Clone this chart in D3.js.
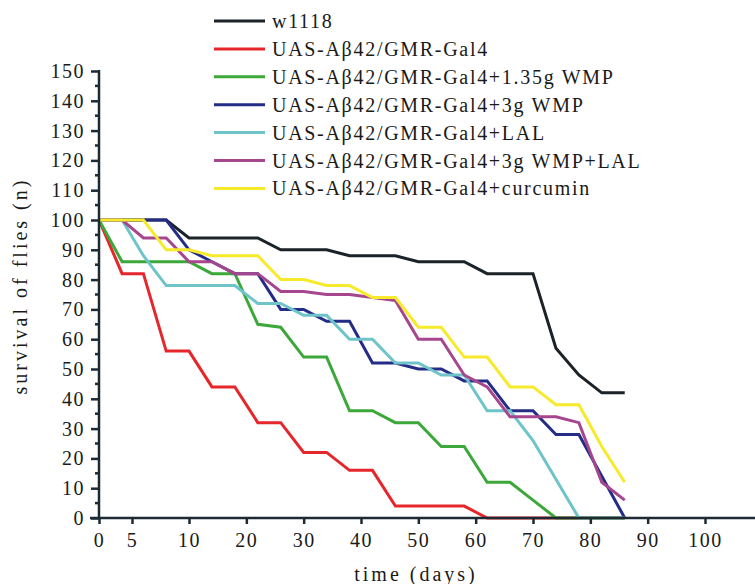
<!DOCTYPE html>
<html>
<head>
<meta charset="utf-8">
<script src="https://cdn.jsdelivr.net/npm/d3@7"></script>
<style>
    body { margin: 0; background: #fff; }
    text { font-family: "Liberation Serif", "Times New Roman", serif; fill: #1a1a1a; }
</style>
</head>
<body>
<script>
// observation days (x) shared by all groups
const days = [0, 3.5, 6, 8, 10, 14, 18, 22, 26, 30, 34, 38, 42, 46, 50, 54, 58, 62, 66, 70, 74, 78, 82, 86];

const w1118     = [100, 100, 100, 100, 94, 94, 94, 94, 90, 90, 90, 88, 88, 88, 86, 86, 86, 82, 82, 82, 57, 48, 42, 42];
const abeta     = [100, 82, 82, 56, 56, 44, 44, 32, 32, 22, 22, 16, 16, 4, 4, 4, 4, 0, 0, 0, 0, 0, 0, 0];
const wmp135    = [100, 86, 86, 86, 86, 82, 82, 65, 64, 54, 54, 36, 36, 32, 32, 24, 24, 12, 12, 6, 0, 0, 0, 0];
const wmp3      = [100, 100, 100, 100, 90, 86, 82, 82, 70, 70, 66, 66, 52, 52, 50, 50, 46, 46, 36, 36, 28, 28, 14, 0];
const lal       = [100, 100, 88, 78, 78, 78, 78, 72, 72, 68, 68, 60, 60, 52, 52, 48, 48, 36, 36, 26, 13, 0, 0, 0];
const wmp3lal   = [100, 100, 94, 94, 86, 86, 82, 82, 76, 76, 75, 75, 74, 73, 60, 60, 48, 44, 34, 34, 34, 32, 12, 6];
const curcumin  = [100, 100, 100, 90, 90, 88, 88, 88, 80, 80, 78, 78, 74, 74, 64, 64, 54, 54, 44, 44, 38, 38, 24, 12];

const seriesNames = [
    'w1118',
    'UAS-A\u03b242/GMR-Gal4',
    'UAS-A\u03b242/GMR-Gal4+1.35g WMP',
    'UAS-A\u03b242/GMR-Gal4+3g WMP',
    'UAS-A\u03b242/GMR-Gal4+LAL',
    'UAS-A\u03b242/GMR-Gal4+3g WMP+LAL',
    'UAS-A\u03b242/GMR-Gal4+curcumin'
];
const seriesValues = [w1118, abeta, wmp135, wmp3, lal, wmp3lal, curcumin];
const seriesColors = ['#1b2228', '#e5262b', '#3ca83a', '#232c86', '#6ec4c9', '#a6468f', '#f6ea2b'];

const xTicks = [0, 5, 10, 20, 30, 40, 50, 60, 70, 80, 90, 100];
const yTicks = d3.range(0, 151, 10);
const yMinor = d3.range(5, 150, 10);

const W = 755, H = 584;
const axisColor = '#1e2a33';

const svg = d3.select('body').append('svg')
    .attr('width', W)
    .attr('height', H);

// x axis has an uneven start (0 and 5 are squeezed), so use a polylinear scale
const x = d3.scaleLinear()
    .domain([0, 5, 10, 100])
    .range([99, 132, 189, 705]);
const y = d3.scaleLinear()
    .domain([0, 150])
    .range([518, 71]);

// lines
const line = d3.line()
    .x((d, i) => x(days[i]))
    .y(d => y(d));

svg.append('g').attr('class', 'series')
    .selectAll('path')
    .data(seriesValues)
    .join('path')
    .attr('d', d => line(d))
    .attr('fill', 'none')
    .attr('stroke', (d, i) => seriesColors[i])
    .attr('stroke-width', 3)
    .attr('stroke-linejoin', 'miter');

// y axis
const yAxis = svg.append('g')
    .attr('transform', 'translate(' + x(0) + ',0)')
    .call(d3.axisLeft(y).tickValues(yTicks).tickSize(8).tickPadding(6).tickFormat(d3.format('d')));
yAxis.select('.domain').remove();
yAxis.selectAll('.tick line').attr('stroke', axisColor).attr('stroke-width', 2.5);
yAxis.selectAll('.tick text')
    .style('font-size', '20px')
    .style('letter-spacing', '1.5px')
    .attr('fill', '#1a1a1a');
yAxis.append('g').selectAll('line')
    .data(yMinor)
    .join('line')
    .attr('x1', -4).attr('x2', 0)
    .attr('y1', d => y(d)).attr('y2', d => y(d))
    .attr('stroke', axisColor).attr('stroke-width', 2.5);
yAxis.append('line')
    .attr('x1', 0).attr('x2', 0)
    .attr('y1', y(150) - 1).attr('y2', y(0) + 1)
    .attr('stroke', axisColor).attr('stroke-width', 2.5);

// x axis
const xAxis = svg.append('g')
    .attr('transform', 'translate(0,' + y(0) + ')')
    .call(d3.axisBottom(x).tickValues(xTicks).tickSize(6).tickPadding(9).tickFormat(d3.format('d')));
xAxis.select('.domain').remove();
xAxis.selectAll('.tick line').attr('stroke', axisColor).attr('stroke-width', 2.5);
xAxis.selectAll('.tick text')
    .style('font-size', '20px')
    .style('letter-spacing', '1.5px')
    .attr('fill', '#1a1a1a');
xAxis.append('line')
    .attr('x1', x(0) - 9).attr('x2', W)
    .attr('y1', 0).attr('y2', 0)
    .attr('stroke', axisColor).attr('stroke-width', 2.5);

// axis titles
svg.append('text')
    .attr('x', 416).attr('y', 581)
    .attr('text-anchor', 'middle')
    .style('font-size', '20px')
    .style('letter-spacing', '3px')
    .text('time (days)');

svg.append('text')
    .attr('transform', 'translate(27,286) rotate(-90)')
    .attr('text-anchor', 'middle')
    .style('font-size', '20px')
    .style('letter-spacing', '3px')
    .text('survival of flies (n)');

// legend
const legend = svg.append('g')
    .attr('transform', 'translate(214,21)')
    .selectAll('g')
    .data(seriesNames)
    .join('g')
    .attr('transform', (d, i) => 'translate(0,' + i * 27.9 + ')');
legend.append('line')
    .attr('x1', 0).attr('x2', 51)
    .attr('stroke', (d, i) => seriesColors[i])
    .attr('stroke-width', 3);
legend.append('text')
    .attr('x', 58).attr('dy', '0.35em')
    .style('font-size', '20px')
    .style('letter-spacing', '1.7px')
    .text(d => d);
</script>
</body>
</html>
